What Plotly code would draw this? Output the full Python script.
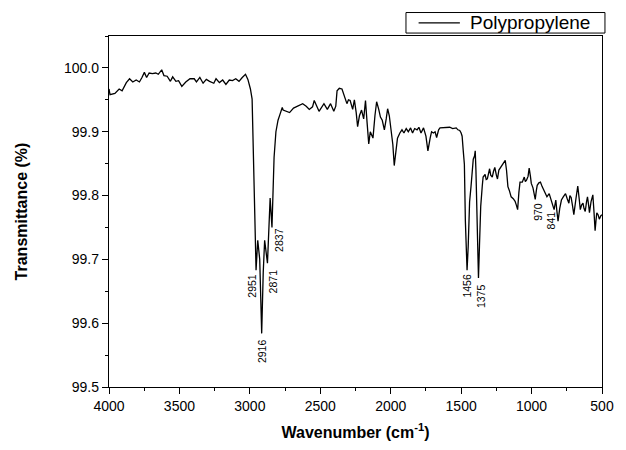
import plotly.graph_objects as go

wavenumber = [4000, 3993, 3958, 3928, 3907, 3877, 3854, 3831, 3807, 3784, 3766, 3749, 3733, 3715, 3692,
              3668, 3650, 3626, 3610, 3587, 3564, 3548, 3525, 3506, 3483, 3455, 3425, 3395, 3379, 3355,
              3332, 3309, 3286, 3256, 3240, 3216, 3193, 3170, 3146, 3123, 3100, 3077, 3054, 3031, 3014,
              2996, 2984, 2975, 2965, 2956, 2944, 2930, 2916, 2905, 2895, 2875, 2856, 2843, 2828, 2815,
              2800, 2785, 2770, 2764, 2740, 2718, 2690, 2671, 2650, 2625, 2600, 2578, 2555, 2543, 2509,
              2474, 2450, 2427, 2404, 2390, 2381, 2365, 2346, 2328, 2311, 2300, 2288, 2270, 2258, 2245,
              2235, 2222, 2207, 2192, 2179, 2168, 2156, 2145, 2133, 2126, 2112, 2100, 2085, 2073, 2060,
              2045, 2032, 2022, 2010, 1998, 1985, 1975, 1963, 1952, 1935, 1920, 1906, 1890, 1875, 1859,
              1845, 1830, 1813, 1800, 1785, 1767, 1750, 1736, 1720, 1710, 1697, 1685, 1674, 1660, 1650,
              1627, 1604, 1581, 1560, 1535, 1523, 1510, 1500, 1493, 1485, 1477, 1470, 1463, 1458, 1450,
              1440, 1430, 1422, 1414, 1405, 1400, 1395, 1388, 1377, 1370, 1361, 1350, 1344, 1330, 1322,
              1314, 1305, 1298, 1290, 1279, 1270, 1261, 1250, 1242, 1232, 1221, 1210, 1198, 1187, 1178,
              1168, 1158, 1145, 1130, 1117, 1108, 1099, 1090, 1082, 1066, 1058, 1052, 1044, 1036, 1025,
              1017, 1008, 1002, 990, 980, 974, 966, 960, 948, 937, 925, 914, 903, 891, 875,
              866, 858, 850, 840, 834, 828, 820, 812, 800, 788, 775, 759, 747, 735, 728,
              719, 710, 700, 685, 672, 662, 654, 645, 635, 628, 619, 610, 603, 595, 589,
              578, 565, 557, 549, 543, 537, 528, 519, 509, 500]

transmittance = [99.967, 99.958, 99.960, 99.967, 99.964, 99.977, 99.983, 99.978, 99.981, 99.978, 99.985, 99.993, 99.985, 99.992, 99.991,
                 99.992, 99.990, 99.997, 99.988, 99.987, 99.979, 99.986, 99.979, 99.980, 99.971, 99.978, 99.983, 99.983, 99.978, 99.985,
                 99.976, 99.982, 99.979, 99.976, 99.983, 99.977, 99.981, 99.974, 99.981, 99.980, 99.983, 99.979, 99.985, 99.990, 99.982,
                 99.967, 99.951, 99.880, 99.770, 99.683, 99.730, 99.700, 99.584, 99.680, 99.730, 99.694, 99.796, 99.750, 99.860, 99.900,
                 99.918, 99.928, 99.938, 99.934, 99.932, 99.930, 99.937, 99.939, 99.942, 99.944, 99.940, 99.935, 99.939, 99.949, 99.932,
                 99.944, 99.935, 99.944, 99.932, 99.940, 99.964, 99.968, 99.967, 99.954, 99.944, 99.950, 99.949, 99.935, 99.950, 99.930,
                 99.908, 99.925, 99.934, 99.920, 99.949, 99.915, 99.881, 99.900, 99.895, 99.890, 99.925, 99.947, 99.935, 99.923, 99.918,
                 99.903, 99.920, 99.936, 99.925, 99.906, 99.880, 99.847, 99.870, 99.890, 99.898, 99.903, 99.898, 99.905, 99.900, 99.906,
                 99.898, 99.905, 99.903, 99.907, 99.898, 99.906, 99.893, 99.870, 99.890, 99.900, 99.898, 99.900, 99.891, 99.903, 99.906,
                 99.906, 99.907, 99.907, 99.905, 99.906, 99.903, 99.902, 99.898, 99.893, 99.870, 99.849, 99.760, 99.700, 99.683, 99.720,
                 99.790, 99.814, 99.845, 99.857, 99.862, 99.870, 99.840, 99.760, 99.671, 99.720, 99.783, 99.815, 99.829, 99.833, 99.825,
                 99.826, 99.835, 99.842, 99.832, 99.829, 99.838, 99.844, 99.832, 99.826, 99.840, 99.844, 99.848, 99.852, 99.855, 99.840,
                 99.814, 99.808, 99.798, 99.795, 99.791, 99.785, 99.778, 99.805, 99.821, 99.821, 99.828, 99.829, 99.822, 99.824, 99.830,
                 99.843, 99.830, 99.819, 99.812, 99.800, 99.794, 99.808, 99.816, 99.820, 99.821, 99.814, 99.809, 99.805, 99.798, 99.803,
                 99.795, 99.789, 99.785, 99.778, 99.790, 99.793, 99.775, 99.760, 99.780, 99.793, 99.798, 99.803, 99.795, 99.788, 99.800,
                 99.797, 99.785, 99.770, 99.795, 99.815, 99.795, 99.778, 99.785, 99.788, 99.780, 99.775, 99.790, 99.798, 99.785, 99.773,
                 99.790, 99.801, 99.775, 99.745, 99.760, 99.773, 99.770, 99.763, 99.768, 99.770]

series_name = "Polypropylene"
peak_labels = ["2951", "2916", "2871", "2837", "1456", "1375", "970", "841"]
label_x = [2991, 2915, 2838, 2798, 1465, 1354, 959, 862]
label_y = [99.659, 99.556, 99.665, 99.731, 99.659, 99.642, 99.775, 99.761]

x_ticks = [4000, 3500, 3000, 2500, 2000, 1500, 1000, 500]
y_ticks = [99.5, 99.6, 99.7, 99.8, 99.9, 100.0]

FONT = "Liberation Sans, Arial, sans-serif"

fig = go.Figure()
fig.add_trace(go.Scatter(x=wavenumber, y=transmittance, mode="lines", name=series_name,
                         showlegend=False, line=dict(color="black", width=1.3)))

for lab, lx, ly in zip(peak_labels, label_x, label_y):
    fig.add_annotation(x=lx, y=ly, text=lab, showarrow=False, textangle=-90,
                       font=dict(family=FONT, size=10.5, color="black"))

# legend box drawn above the plot frame (paper coordinates)
fig.add_shape(type="rect", xref="paper", yref="paper", x0=0.6024, x1=1.006, y0=1.0084, y1=1.0669,
              line=dict(color="black", width=1), fillcolor="white", layer="above")
fig.add_shape(type="line", xref="paper", yref="paper", x0=0.628, x1=0.7117, y0=1.0376, y1=1.0376,
              line=dict(color="black", width=1.3))
fig.add_annotation(xref="paper", yref="paper", x=0.7276, y=1.0376, xanchor="left", yanchor="middle",
                   text=series_name, showarrow=False, font=dict(family=FONT, size=19, color="black"))

fig.update_layout(
    width=626, height=450,
    margin=dict(l=109, r=14, t=36, b=55),
    paper_bgcolor="white", plot_bgcolor="white",
    font=dict(family=FONT, color="black"),
    showlegend=False,
    xaxis=dict(range=[4000, 500], tickvals=x_ticks, ticktext=[str(v) for v in x_ticks],
               showline=True, linecolor="black", linewidth=1.3, mirror=True,
               ticks="outside", ticklen=6, tickwidth=1.2, tickcolor="black",
               minor=dict(dtick=250, tick0=500, ticks="outside", ticklen=3, tickwidth=1, tickcolor="black"),
               showgrid=False, zeroline=False,
               tickfont=dict(family=FONT, size=14, color="black"),
               title=dict(text="<b>Wavenumber (cm<sup>-1</sup>)</b>", standoff=13,
                          font=dict(family=FONT, size=16, color="black"))),
    yaxis=dict(range=[99.5, 100.05], tickvals=y_ticks, ticktext=[f"{v:.1f}" for v in y_ticks],
               showline=True, linecolor="black", linewidth=1.3, mirror=True,
               ticks="outside", ticklen=6, tickwidth=1.2, tickcolor="black",
               minor=dict(dtick=0.05, tick0=99.5, ticks="outside", ticklen=3, tickwidth=1, tickcolor="black"),
               showgrid=False, zeroline=False,
               tickfont=dict(family=FONT, size=14, color="black"),
               title=dict(text="<b>Transmittance (%)</b>", standoff=32,
                          font=dict(family=FONT, size=16, color="black"))),
    xaxis2=dict(range=[4000, 500], overlaying="x", side="top", anchor="y",
                tickvals=x_ticks, showticklabels=False, ticks="inside", ticklen=5,
                tickwidth=1.2, tickcolor="black", showgrid=False, zeroline=False, showline=False,
                minor=dict(dtick=250, tick0=500, ticks="inside", ticklen=3, tickwidth=1, tickcolor="black")),
    yaxis2=dict(range=[99.5, 100.05], overlaying="y", side="right", anchor="x",
                tickvals=y_ticks, showticklabels=False, ticks="inside", ticklen=5,
                tickwidth=1.2, tickcolor="black", showgrid=False, zeroline=False, showline=False,
                minor=dict(dtick=0.05, tick0=99.5, ticks="inside", ticklen=3, tickwidth=1, tickcolor="black")),
)

fig.write_html("out.html")
